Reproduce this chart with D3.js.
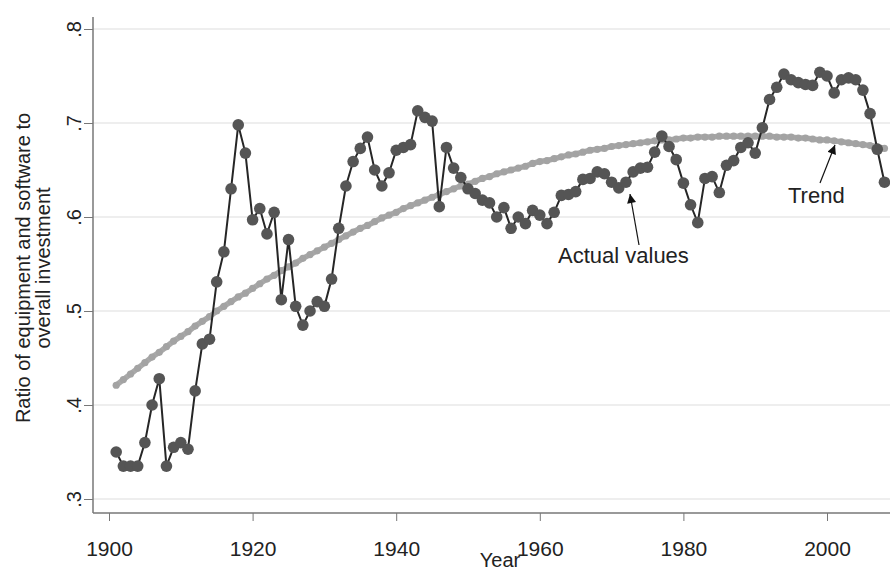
<!DOCTYPE html>
<html>
<head>
<meta charset="utf-8">
<script src="https://cdn.jsdelivr.net/npm/d3@7"></script>
<style>
  body { margin: 0; background: #fff; }
  svg { display: block; font-family: "Liberation Sans", Arial, sans-serif; }
</style>
</head>
<body>
<svg id="chart" width="890" height="571"></svg>
<script>
// years 1901-2008
const years = d3.range(1901, 2009);

// equipment & software share of investment
const actual = [
  0.350, 0.335, 0.335, 0.335, 0.360, 0.400, 0.428, 0.335, 0.355, 0.360,
  0.353, 0.415, 0.465, 0.470, 0.531, 0.563, 0.630, 0.698, 0.668, 0.597,
  0.609, 0.582, 0.605, 0.512, 0.576, 0.505, 0.485, 0.500, 0.510, 0.505,
  0.534, 0.588, 0.633, 0.659, 0.673, 0.685, 0.650, 0.633, 0.647, 0.671,
  0.674, 0.677, 0.713, 0.706, 0.702, 0.611, 0.674, 0.652, 0.642, 0.630,
  0.625, 0.618, 0.615, 0.600, 0.610, 0.588, 0.600, 0.593, 0.607, 0.602,
  0.593, 0.605, 0.623, 0.624, 0.627, 0.640, 0.641, 0.648, 0.646, 0.637,
  0.631, 0.637, 0.648, 0.652, 0.653, 0.669, 0.686, 0.675, 0.661, 0.636,
  0.613, 0.594, 0.641, 0.643, 0.626, 0.655, 0.660, 0.674, 0.679, 0.668,
  0.695, 0.725, 0.738, 0.752, 0.746, 0.743, 0.741, 0.740, 0.754, 0.750,
  0.732, 0.746, 0.748, 0.746, 0.735, 0.710, 0.672, 0.637
];

// fitted trend
const trend = [
  0.421, 0.427, 0.433, 0.439, 0.445, 0.451, 0.456, 0.462, 0.468, 0.473,
  0.478, 0.484, 0.489, 0.494, 0.500, 0.505, 0.510, 0.515, 0.519, 0.524,
  0.529, 0.534, 0.538, 0.543, 0.547, 0.551, 0.556, 0.560, 0.564, 0.568,
  0.572, 0.576, 0.580, 0.584, 0.588, 0.591, 0.595, 0.599, 0.602, 0.605,
  0.609, 0.612, 0.615, 0.618, 0.621, 0.624, 0.627, 0.630, 0.633, 0.635,
  0.638, 0.641, 0.643, 0.646, 0.648, 0.650, 0.652, 0.654, 0.657, 0.659,
  0.660, 0.662, 0.664, 0.666, 0.667, 0.669, 0.671, 0.672, 0.673, 0.675,
  0.676, 0.677, 0.678, 0.679, 0.680, 0.681, 0.682, 0.682, 0.683, 0.684,
  0.684, 0.685, 0.685, 0.685, 0.686, 0.686, 0.686, 0.686, 0.686, 0.686,
  0.686, 0.686, 0.685, 0.685, 0.685, 0.684, 0.684, 0.683, 0.682, 0.682,
  0.681, 0.680, 0.679, 0.678, 0.677, 0.676, 0.675, 0.673
];

const xTicks = [1900, 1920, 1940, 1960, 1980, 2000];
const yTicks = [0.3, 0.4, 0.5, 0.6, 0.7, 0.8];
const yTickLabels = [".3", ".4", ".5", ".6", ".7", ".8"];

const svg = d3.select("#chart");

const x = d3.scaleLinear().domain([1900, 2000]).range([109, 827]);
const y = d3.scaleLinear().domain([0.3, 0.8]).range([499, 29]);

const plotLeft = 93, plotBottom = 513, plotRight = 890, plotTop = 17;

// grid lines
svg.append("g")
    .selectAll("line")
    .data(yTicks)
    .enter().append("line")
    .attr("x1", plotLeft).attr("x2", plotRight)
    .attr("y1", d => y(d)).attr("y2", d => y(d))
    .attr("stroke", "#e8e8e8")
    .attr("stroke-width", 1.5);

// y axis
const yAxis = svg.append("g")
    .attr("transform", `translate(${plotLeft},0)`)
    .call(d3.axisLeft(y).tickValues(yTicks).tickSize(9).tickSizeOuter(0)
        .tickFormat((d, i) => yTickLabels[i]));
yAxis.select(".domain").remove();
yAxis.selectAll(".tick line").attr("stroke", "#777");
yAxis.selectAll(".tick text")
    .attr("x", null).attr("dy", null)
    .attr("transform", "translate(-12,0) rotate(-90)")
    .attr("text-anchor", "middle")
    .attr("font-size", 20)
    .attr("fill", "#222");

// x axis
const xAxis = svg.append("g")
    .attr("transform", `translate(0,${plotBottom})`)
    .call(d3.axisBottom(x).tickValues(xTicks).tickSize(8).tickSizeOuter(0)
        .tickFormat(d3.format("d")));
xAxis.select(".domain").remove();
xAxis.selectAll(".tick line").attr("stroke", "#777");
xAxis.selectAll(".tick text")
    .attr("y", 43).attr("dy", null)
    .attr("font-size", 21)
    .attr("fill", "#222");

// axis lines
svg.append("line")
    .attr("x1", plotLeft).attr("x2", plotLeft).attr("y1", plotTop).attr("y2", plotBottom)
    .attr("stroke", "#777").attr("stroke-width", 1.5);
svg.append("line")
    .attr("x1", plotLeft).attr("x2", plotRight).attr("y1", plotBottom).attr("y2", plotBottom)
    .attr("stroke", "#777").attr("stroke-width", 1.5);

// axis titles
svg.append("text")
    .attr("transform", "translate(30,268) rotate(-90)")
    .attr("text-anchor", "middle")
    .attr("font-size", 20)
    .attr("fill", "#222")
    .text("Ratio of equipment and software to");
svg.append("text")
    .attr("transform", "translate(50,268) rotate(-90)")
    .attr("text-anchor", "middle")
    .attr("font-size", 20)
    .attr("fill", "#222")
    .text("overall investment");
svg.append("text")
    .attr("x", 500).attr("y", 567)
    .attr("text-anchor", "middle")
    .attr("font-size", 20)
    .attr("fill", "#222")
    .text("Year");

// trend
const trendLine = d3.line().x((d, i) => x(years[i])).y(d => y(d));
svg.append("path")
    .datum(trend)
    .attr("d", trendLine)
    .attr("fill", "none")
    .attr("stroke", "#a9a9a9")
    .attr("stroke-width", 5.5);
svg.append("g")
    .selectAll("circle")
    .data(trend)
    .enter().append("circle")
    .attr("cx", (d, i) => x(years[i]))
    .attr("cy", d => y(d))
    .attr("r", 3.6)
    .attr("fill", "#a3a3a3");

// actual values
const actualLine = d3.line().x((d, i) => x(years[i])).y(d => y(d));
svg.append("path")
    .datum(actual)
    .attr("d", actualLine)
    .attr("fill", "none")
    .attr("stroke", "#262626")
    .attr("stroke-width", 2);
svg.append("g")
    .selectAll("circle")
    .data(actual)
    .enter().append("circle")
    .attr("cx", (d, i) => x(years[i]))
    .attr("cy", d => y(d))
    .attr("r", 5.8)
    .attr("fill", "#555");

// annotations
svg.append("defs").append("marker")
    .attr("id", "arrow")
    .attr("viewBox", "0 0 10 10")
    .attr("refX", 10).attr("refY", 5)
    .attr("markerWidth", 11).attr("markerHeight", 9)
    .attr("markerUnits", "userSpaceOnUse")
    .attr("orient", "auto")
    .append("path")
    .attr("d", "M0,0 L10,5 L0,10 Z")
    .attr("fill", "#111");

svg.append("line")
    .attr("x1", 639).attr("y1", 245).attr("x2", 630).attr("y2", 194)
    .attr("stroke", "#111").attr("stroke-width", 1.2)
    .attr("marker-end", "url(#arrow)");
svg.append("text")
    .attr("x", 558).attr("y", 263)
    .attr("font-size", 22)
    .attr("fill", "#222")
    .text("Actual values");

svg.append("line")
    .attr("x1", 820).attr("y1", 183).attr("x2", 835).attr("y2", 145)
    .attr("stroke", "#111").attr("stroke-width", 1.2)
    .attr("marker-end", "url(#arrow)");
svg.append("text")
    .attr("x", 788).attr("y", 203)
    .attr("font-size", 22)
    .attr("fill", "#222")
    .text("Trend");
</script>
</body>
</html>
